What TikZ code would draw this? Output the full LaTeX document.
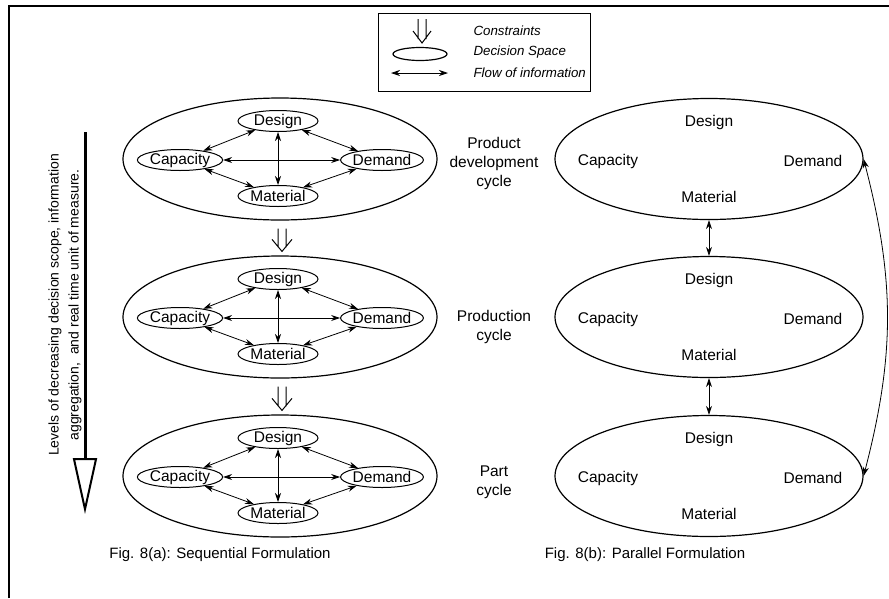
\documentclass[tikz,border=0pt]{standalone}
\usepackage{fontspec}
\setmainfont{Liberation Sans}
\usetikzlibrary{arrows.meta,shapes.geometric,positioning}

\tikzset{
  space/.style={draw, ellipse, line width=1.2pt, inner sep=0pt},
  subspace/.style={space, line width=1pt, minimum width=80pt, minimum height=21pt},
  flow/.style={{Stealth[length=9pt,width=6pt]}-{Stealth[length=9pt,width=6pt]}, line width=0.8pt},
  constraint/.style={line width=1pt, line join=miter},
  cyclelabel/.style={align=center},
  legendtext/.style={anchor=west, font=\fontsize{13.3}{16}\selectfont\itshape},
}

\begin{document}
\begin{tikzpicture}[x=1pt, y=-1pt, font=\fontsize{15.5}{19}\selectfont]
  \useasboundingbox (0,0) rectangle (889,598);
  % page frame
  \draw[line width=2.5pt] (9,598) -- (9,6) -- (889,6);

  % legend
  \node[draw, line width=1pt, anchor=north west, minimum width=212pt, minimum height=78pt] (legend) at (378,13) {};
  \coordinate (lgtop) at (422,19); \coordinate (lgbot) at (422,43);
  \draw[constraint] ([xshift=-4pt]lgtop) -- ([shift={(-4,-4)}]lgbot) ([xshift=4pt]lgtop) -- ([shift={(4,-4)}]lgbot)
    ([shift={(-9,-12)}]lgbot) -- (lgbot) -- ([shift={(9,-12)}]lgbot);
  \node[space, minimum width=54pt, minimum height=13pt] (lgspace) at (420,54) {};
  \coordinate (lgleft) at (391,73); \coordinate (lgright) at (448,73);
  \draw[flow] (lgleft) -- (lgright);
  \node[legendtext] (lgc) at (470,31) {Constraints};
  \node[legendtext] (lgd) at (470,52) {Decision Space};
  \node[legendtext] (lgf) at (470,73) {Flow of information};

  % levels axis
  \node[rotate=90, align=center, font=\fontsize{14}{20}\selectfont] (levels) at (65,305)
    {Levels of decreasing decision scope, information\\aggregation,\ \ and real time unit of measure.};
  \coordinate (axtop) at (85,132); \coordinate (axbot) at (85,514);
  \draw[line width=3pt, -{Triangle[open, length=56pt, width=24pt, line width=2pt]}] (axtop) -- (axbot);

  % sequential and parallel formulations
  \foreach \lvl/\cy in {A/159, B/317, C/476} {
    \node[space, minimum width=314pt, minimum height=122pt] (seq\lvl) at (280,\cy) {};
    \node[subspace] (des\lvl) at (278,{\cy-38}) {Design};
    \node[subspace] (cap\lvl) at (180,{\cy+1}) {Capacity};
    \node[subspace] (dem\lvl) at (382,{\cy+1}) {Demand};
    \node[subspace] (mat\lvl) at (278,{\cy+37}) {Material};
    \draw[flow] (cap\lvl) -- (dem\lvl); \draw[flow] (des\lvl) -- (mat\lvl);
    \draw[flow] (cap\lvl) -- (des\lvl); \draw[flow] (des\lvl) -- (dem\lvl);
    \draw[flow] (dem\lvl) -- (mat\lvl); \draw[flow] (mat\lvl) -- (cap\lvl);

    \node[space, minimum width=308pt, minimum height=121pt] (par\lvl) at (709,\cy) {};
    \node (pdes\lvl) at (709,{\cy-37}) {Design};
    \node (pcap\lvl) at (608,{\cy+2}) {Capacity};
    \node (pdem\lvl) at (813,{\cy+2}) {Demand};
    \node (pmat\lvl) at (709,{\cy+38}) {Material};
  }
  % constraints between levels
  \foreach \upper/\lower in {seqA/seqB, seqB/seqC} {
    \draw[constraint] ([shift={(-2,8)}]\upper.south) -- ([shift={(-2,-8)}]\lower.north)
      ([shift={(6,8)}]\upper.south) -- ([shift={(6,-8)}]\lower.north)
      ([shift={(-8,-16)}]\lower.north) -- ([shift={(2,-4)}]\lower.north) -- ([shift={(12,-16)}]\lower.north);
  }
  \draw[flow] (parA) -- (parB); \draw[flow] (parB) -- (parC);
  \draw[flow] (parA.east) .. controls (895,280) and (895,355) .. (parC.east);

  % cycle names
  \node[cyclelabel] (pdc) at (494,163) {Product\\development\\cycle};
  \node[cyclelabel] (prc) at (494,327) {Production\\cycle};
  \node[cyclelabel] (ptc) at (494,482) {Part\\cycle};

  % captions
  \node[font=\fontsize{15}{18}\selectfont] (capa) at (220,555) {Fig. 8(a): Sequential Formulation};
  \node[font=\fontsize{15}{18}\selectfont] (capb) at (645,555) {Fig. 8(b): Parallel Formulation};
\end{tikzpicture}
\end{document}
